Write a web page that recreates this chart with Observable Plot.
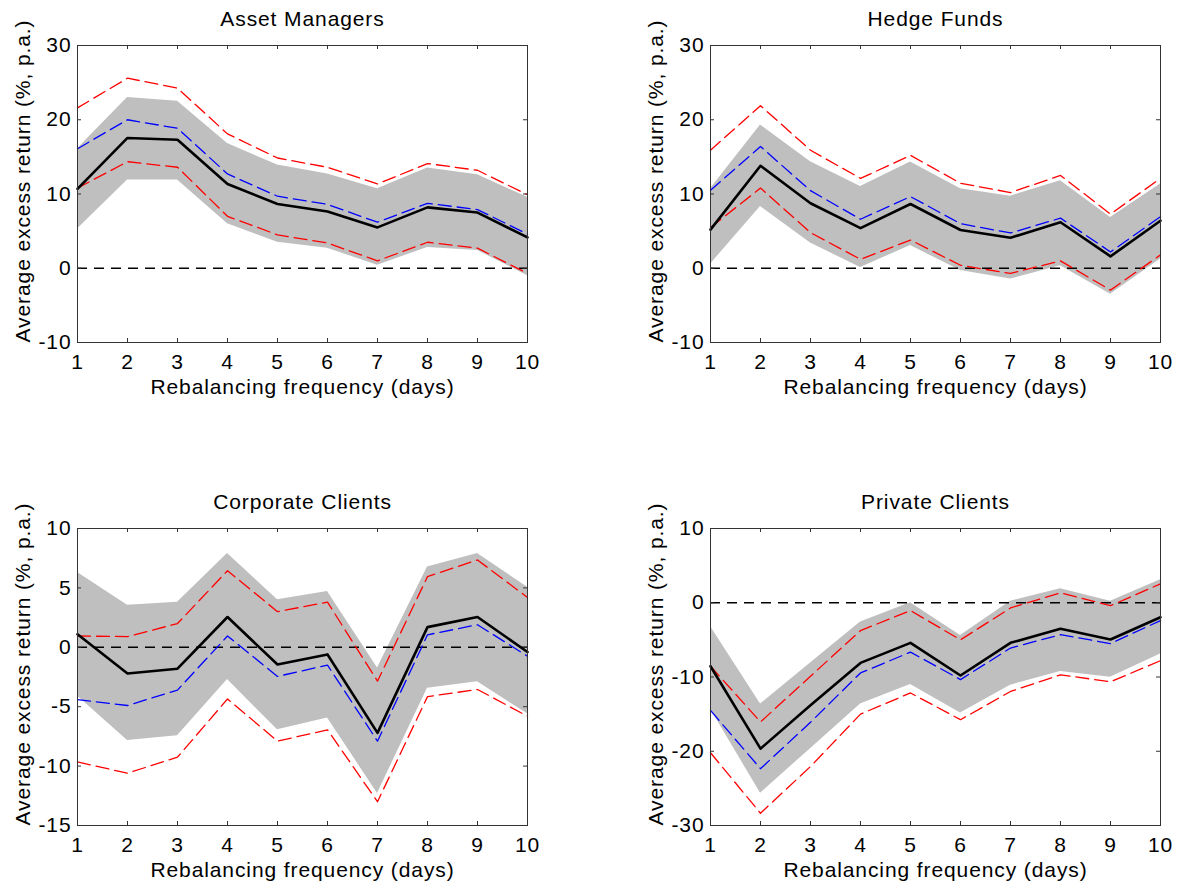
<!DOCTYPE html>
<html>
<head>
<meta charset="utf-8">
<script src="https://cdn.jsdelivr.net/npm/d3@7"></script>
<script src="https://cdn.jsdelivr.net/npm/@observablehq/plot@0.6"></script>
<style>
  html, body { margin: 0; padding: 0; background: #fff; }
  #chart { position: relative; width: 1180px; height: 884px; background: #fff; }
  #chart svg { position: absolute; }
</style>
</head>
<body>
<div id="chart"></div>
<script>
// ---- data ----
const days = [1, 2, 3, 4, 5, 6, 7, 8, 9, 10];
const titles = ["Asset Managers", "Hedge Funds", "Corporate Clients", "Private Clients"];
const xLabel = "Rebalancing frequency (days)";
const yLabel = "Average excess return (%, p.a.)";

// Asset Managers
const amMean   = [10.7, 17.55, 17.3, 11.35, 8.65, 7.65, 5.5, 8.2, 7.5, 4.15];
const amBandHi = [16.1, 23.0, 22.5, 16.8, 13.9, 12.7, 10.7, 13.5, 12.6, 9.55];
const amBandLo = [5.3, 11.9, 11.9, 6.0, 3.5, 2.7, 0.4, 2.8, 2.4, -1.0];
const amBlue   = [16.1, 20.0, 18.85, 12.7, 9.7, 8.6, 6.2, 8.75, 7.9, 4.6];
const amRedHi  = [21.6, 25.6, 24.25, 18.1, 14.85, 13.6, 11.35, 14.1, 13.2, 9.9];
const amRedLo  = [10.8, 14.35, 13.6, 7.0, 4.5, 3.4, 1.0, 3.5, 2.7, -0.7];

// Hedge Funds
const hfMean   = [5.2, 13.8, 8.75, 5.4, 8.65, 5.15, 4.1, 6.2, 1.6, 6.4];
const hfBandHi = [10.7, 19.3, 14.35, 11.0, 14.3, 10.7, 9.7, 11.8, 6.85, 11.35];
const hfBandLo = [0.55, 8.3, 3.4, 0.1, 3.05, -0.3, -1.45, 0.35, -3.5, 1.25];
const hfBlue   = [10.5, 16.4, 10.45, 6.6, 9.65, 6.0, 4.75, 6.75, 2.2, 6.95];
const hfRedHi  = [15.9, 21.9, 15.9, 12.1, 15.2, 11.45, 10.2, 12.5, 7.3, 12.1];
const hfRedLo  = [5.5, 10.8, 4.8, 1.2, 3.8, 0.4, -0.7, 1.0, -2.95, 1.8];

// Corporate Clients
const ccMean   = [1.1, -2.2, -1.8, 2.55, -1.45, -0.6, -7.2, 1.7, 2.55, -0.4];
const ccBandHi = [6.3, 3.55, 3.8, 7.9, 4.0, 4.7, -1.75, 6.75, 7.9, 5.05];
const ccBandLo = [-4.1, -7.85, -7.45, -2.7, -6.95, -5.95, -12.3, -3.45, -2.9, -5.6];
const ccBlue   = [-4.4, -4.9, -3.6, 0.95, -2.45, -1.5, -7.9, 1.05, 1.9, -0.75];
const ccRedHi  = [0.95, 0.9, 2.0, 6.45, 3.0, 3.8, -2.85, 5.95, 7.35, 4.2];
const ccRedLo  = [-9.65, -10.6, -9.25, -4.35, -7.9, -6.95, -13.0, -4.15, -3.55, -5.8];

// Private Clients
const pcMean   = [-8.55, -19.65, -13.8, -8.1, -5.4, -9.8, -5.4, -3.5, -4.95, -1.95];
const pcBandHi = [-3.2, -13.65, -8.1, -2.6, 0.0, -4.4, 0.2, 1.9, 0.2, 3.1];
const pcBandLo = [-14.3, -25.65, -19.65, -13.65, -11.0, -14.85, -11.1, -9.25, -10.05, -6.9];
const pcBlue   = [-14.5, -22.35, -16.1, -9.45, -6.65, -10.35, -6.1, -4.3, -5.5, -2.4];
const pcRedHi  = [-8.55, -16.05, -9.9, -3.75, -1.05, -5.0, -0.7, 1.35, -0.4, 2.55];
const pcRedLo  = [-20.2, -28.35, -22.05, -15.0, -12.15, -15.75, -11.95, -9.7, -10.65, -7.8];

// axis ticks
const xTicks = [1, 2, 3, 4, 5, 6, 7, 8, 9, 10];
const yTicksTop = [-10, 0, 10, 20, 30];
const yTicksCorp = [-15, -10, -5, 0, 5, 10];
const yTicksPriv = [-30, -20, -10, 0, 10];

// ---- drawing ----
const W = 547, H = 400, ML = 77, MR = 20, MT = 45, MB = 58;
const PW = W - ML - MR, PH = H - MT - MB;
const TICK = 4;
const FS = 21;

function panel(title, mean, bandLo, bandHi, blue, redLo, redHi, yTicks, left, top) {
  const rows = days.map((d, i) => ({
    day: d, mean: mean[i], lo: bandLo[i], hi: bandHi[i],
    blue: blue[i], redLo: redLo[i], redHi: redHi[i]
  }));
  const yDomain = [yTicks[0], yTicks[yTicks.length - 1]];
  const svg = Plot.plot({
    width: W, height: H,
    marginLeft: ML, marginRight: MR, marginTop: MT, marginBottom: MB,
    x: {domain: [1, 10]},
    y: {domain: yDomain},
    style: {
      fontFamily: "'Liberation Sans', Arial, Helvetica, sans-serif",
      fontSize: FS + "px", letterSpacing: "0.9px", color: "#000", background: "transparent"
    },
    marks: [
      Plot.areaY(rows, {x: "day", y1: "lo", y2: "hi", fill: "#bfbfbf", fillOpacity: 1}),
      Plot.ruleY([0], {stroke: "#000", strokeWidth: 1.4, strokeDasharray: "10,7"}),
      Plot.lineY(rows, {x: "day", y: "redHi", stroke: "#ff0000", strokeWidth: 1.3, strokeDasharray: "13,6"}),
      Plot.lineY(rows, {x: "day", y: "redLo", stroke: "#ff0000", strokeWidth: 1.3, strokeDasharray: "13,6"}),
      Plot.lineY(rows, {x: "day", y: "blue", stroke: "#0000ff", strokeWidth: 1.3, strokeDasharray: "13,6"}),
      Plot.lineY(rows, {x: "day", y: "mean", stroke: "#000", strokeWidth: 2.6}),
      Plot.frame({stroke: "#333", strokeWidth: 1}),
      Plot.tickX(xTicks, {x: d => d, insetTop: PH - TICK, stroke: "#333"}),
      Plot.tickX(xTicks, {x: d => d, insetBottom: PH - TICK, stroke: "#333"}),
      Plot.tickY(yTicks, {y: d => d, insetLeft: PW - TICK, stroke: "#333"}),
      Plot.tickY(yTicks, {y: d => d, insetRight: PW - TICK, stroke: "#333"}),
      Plot.axisX(xTicks, {tickSize: 0, tickPadding: 12, label: null, fontSize: FS, tickFormat: d => String(d)}),
      Plot.axisY(yTicks, {tickSize: 0, tickPadding: 6, label: null, fontSize: FS, tickFormat: d => String(d)}),
      Plot.text([title], {frameAnchor: "top", lineAnchor: "middle", textAnchor: "middle", dy: -26, fontSize: FS, text: d => d}),
      Plot.text([xLabel], {frameAnchor: "bottom", lineAnchor: "middle", textAnchor: "middle", dy: 45, fontSize: FS, text: d => d}),
      Plot.text([yLabel], {frameAnchor: "left", lineAnchor: "middle", textAnchor: "middle", dx: -54, dy: -13, rotate: -90, fontSize: FS, text: d => d, letterSpacing: "1.6px"})
    ]
  });
  svg.style.left = left + "px";
  svg.style.top = top + "px";
  document.getElementById("chart").appendChild(svg);
}

panel(titles[0], amMean, amBandLo, amBandHi, amBlue, amRedLo, amRedHi, yTicksTop, 0, 0);
panel(titles[1], hfMean, hfBandLo, hfBandHi, hfBlue, hfRedLo, hfRedHi, yTicksTop, 633, 0);
panel(titles[2], ccMean, ccBandLo, ccBandHi, ccBlue, ccRedLo, ccRedHi, yTicksCorp, 0, 483);
panel(titles[3], pcMean, pcBandLo, pcBandHi, pcBlue, pcRedLo, pcRedHi, yTicksPriv, 633, 483);
</script>
</body>
</html>
